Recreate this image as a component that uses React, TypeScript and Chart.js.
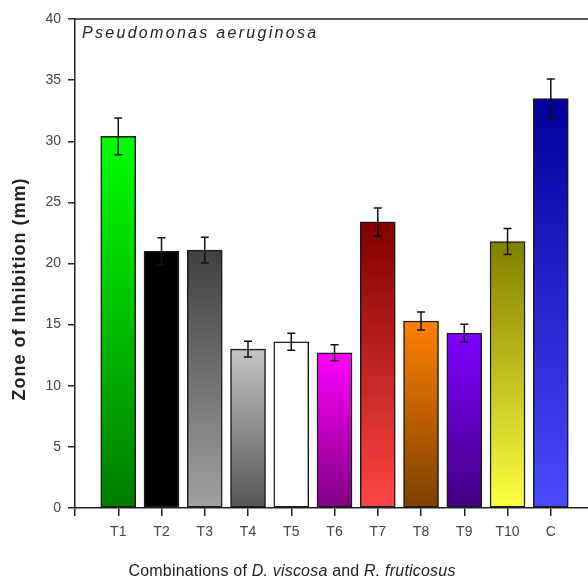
import React, { useEffect, useRef } from "react";
import { Chart, registerables } from "chart.js";

Chart.register(...registerables);

const categories = ["T1", "T2", "T3", "T4", "T5", "T6", "T7", "T8", "T9", "T10", "C"];
const zoneValues = [30.4, 21.0, 21.1, 13.0, 13.6, 12.7, 23.4, 15.3, 14.3, 21.8, 33.5];
const zoneErrors = [1.5, 1.1, 1.05, 0.65, 0.7, 0.65, 1.15, 0.73, 0.73, 1.07, 1.6];
const yTicks = [0, 5, 10, 15, 20, 25, 30, 35, 40];

const topColors = ["#00ff00", "#000000", "#404040", "#c4c4c4", "#ffffff", "#ff00ff", "#800000", "#ff8000", "#8000ff", "#808000", "#00009a"];
const bottomColors = ["#007c00", "#000000", "#a2a2a2", "#555555", "#ffffff", "#800080", "#ff4646", "#7c4000", "#400080", "#ffff40", "#4a4aff"];

const FONT = "'Liberation Sans', Arial, sans-serif";

const decorPlugin = {
  id: "decor",
  afterDatasetsDraw(chart: any) {
    const { ctx, chartArea, scales } = chart;
    const xs = scales.x;
    const ys = scales.y;
    ctx.save();
    ctx.strokeStyle = "#111";
    ctx.lineWidth = 1.5;
    zoneValues.forEach((v, i) => {
      const x = xs.getPixelForValue(i + 1);
      const yTop = ys.getPixelForValue(v + zoneErrors[i]);
      const yBot = ys.getPixelForValue(v - zoneErrors[i]);
      ctx.beginPath();
      ctx.moveTo(x, yTop);
      ctx.lineTo(x, yBot);
      ctx.moveTo(x - 4, yTop);
      ctx.lineTo(x + 4, yTop);
      ctx.moveTo(x - 4, yBot);
      ctx.lineTo(x + 4, yBot);
      ctx.stroke();
    });
    ctx.strokeStyle = "#222";
    ctx.lineWidth = 1.5;
    ctx.beginPath();
    ctx.moveTo(chartArea.left - 1, chartArea.top);
    ctx.lineTo(chartArea.right, chartArea.top);
    ctx.stroke();
    ctx.restore();
  },
  afterDraw(chart: any) {
    const { ctx, chartArea } = chart;
    ctx.save();
    ctx.fillStyle = "#222";
    (ctx as any).letterSpacing = "2.3px";
    ctx.font = `italic 16px ${FONT}`;
    ctx.textBaseline = "middle";
    ctx.textAlign = "left";
    ctx.fillText("Pseudomonas aeruginosa", chartArea.left + 7, chartArea.top + 15);

    (ctx as any).letterSpacing = "0.2px";
    const parts = [
      { t: "Combinations of ", it: false },
      { t: "D. viscosa", it: true },
      { t: " and ", it: false },
      { t: "R. fruticosus", it: true },
    ];
    let total = 0;
    parts.forEach((p) => {
      ctx.font = `${p.it ? "italic " : ""}16px ${FONT}`;
      total += ctx.measureText(p.t).width;
    });
    let x = 292 - total / 2;
    parts.forEach((p) => {
      ctx.font = `${p.it ? "italic " : ""}16px ${FONT}`;
      ctx.fillText(p.t, x, 572);
      x += ctx.measureText(p.t).width;
    });

    (ctx as any).letterSpacing = "1px";
    ctx.translate(20, 289);
    ctx.rotate(-Math.PI / 2);
    ctx.textAlign = "center";
    ctx.font = `bold 18px ${FONT}`;
    ctx.fillText("Zone of Inhibition (mm)", 0, 0);
    ctx.restore();
  },
};

export default function App() {
  const ref = useRef<HTMLCanvasElement>(null);
  useEffect(() => {
    if (!ref.current) return;
    const chart = new Chart(ref.current, {
      type: "bar",
      data: {
        datasets: [
          {
            data: zoneValues.map((v, i) => ({ x: i + 1, y: v })),
            backgroundColor: (c: any) => {
              const ch = c.chart;
              const i = c.dataIndex;
              if (i === undefined || !ch.chartArea || !ch.scales.y) return topColors[i ?? 0];
              const y0 = ch.scales.y.getPixelForValue(zoneValues[i]);
              const y1 = ch.scales.y.getPixelForValue(0);
              const g = ch.ctx.createLinearGradient(0, y0, 0, y1);
              g.addColorStop(0, topColors[i]);
              g.addColorStop(1, bottomColors[i]);
              return g;
            },
            borderColor: "#1a1a1a",
            borderWidth: 1.5,
            borderSkipped: false,
            barThickness: 35,
          },
        ],
      },
      options: {
        responsive: false,
        animation: false,
        layout: { padding: { top: 19, left: 0, right: 0, bottom: 0 } },
        plugins: { legend: { display: false }, tooltip: { enabled: false }, title: { display: false } },
        scales: {
          x: {
            type: "linear",
            min: 0,
            max: 11.86,
            offset: false,
            afterFit: (s: any) => {
              s.height = 75;
            },
            afterBuildTicks: (s: any) => {
              s.ticks = Array.from({ length: 12 }, (_, k) => ({ value: k }));
            },
            ticks: {
              stepSize: 1,
              includeBounds: false,
              autoSkip: false,
              maxRotation: 0,
              padding: 8,
              color: "#444",
              font: { family: FONT, size: 14 },
              callback: (v: any) => (v >= 1 && v <= categories.length ? categories[v - 1] : ""),
            },
            grid: { offset: false, drawOnChartArea: false, tickLength: 8, color: "#222", lineWidth: 1.5 },
            border: { display: true, color: "#222", width: 1.5 },
          },
          y: {
            min: 0,
            max: 40,
            afterFit: (s: any) => {
              s.width = 75;
            },
            afterBuildTicks: (s: any) => {
              s.ticks = yTicks.map((v) => ({ value: v }));
            },
            ticks: {
              stepSize: 5,
              padding: 7,
              color: "#444",
              font: { family: FONT, size: 14 },
            },
            grid: { drawOnChartArea: false, tickLength: 7, color: "#222", lineWidth: 1.5 },
            border: { display: true, color: "#222", width: 1.5 },
          },
        },
      },
      plugins: [decorPlugin],
    } as any);
    return () => chart.destroy();
  }, []);
  return (
    <div style={{ position: "absolute", left: 0, top: 0, width: 588, height: 583, overflow: "hidden", background: "#fff" }}>
      <canvas ref={ref} width={588} height={583} style={{ display: "block" }} />
    </div>
  );
}
